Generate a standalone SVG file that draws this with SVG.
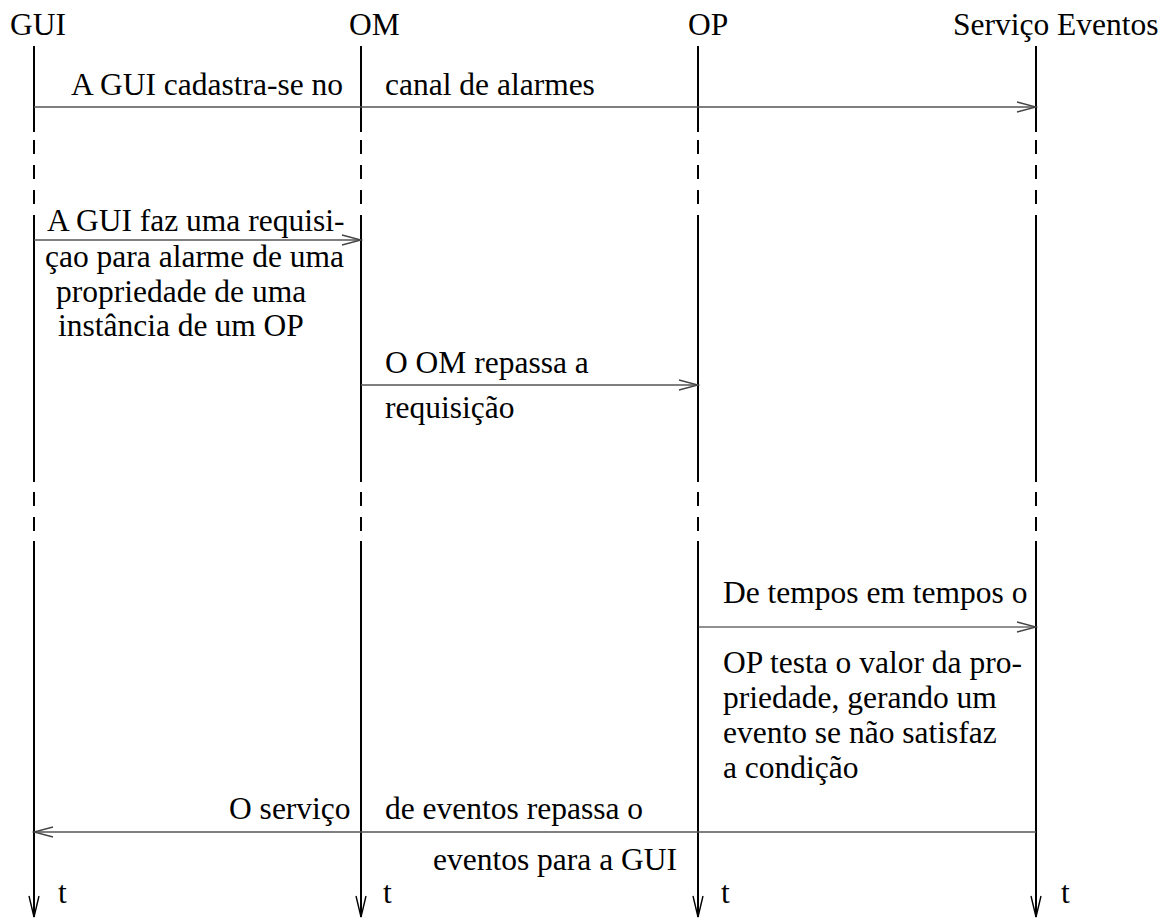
<svg xmlns="http://www.w3.org/2000/svg" width="1168" height="918" viewBox="0 0 1168 918">
<style>
text{font-family:"Liberation Serif","Times New Roman",serif;font-size:31.5px;fill:#000}
.life{stroke:#000;stroke-width:2;fill:none}
.dash{stroke:#000;stroke-width:2;fill:none;stroke-dasharray:14 11}
.msg{stroke:#555;stroke-width:1.6;fill:none;marker-end:url(#chev)}
.msg2{stroke:#222;stroke-width:1.2;fill:none;marker-end:url(#chev)}
</style>
<defs>
<marker id="chev" markerUnits="userSpaceOnUse" markerWidth="24" markerHeight="14" refX="0" refY="0" viewBox="-20 -7 24 14" orient="auto" overflow="visible">
<path d="M-19,-5 L0,0 L-19,5" fill="none" stroke="#444" stroke-width="1.3"/>
</marker>
<marker id="down" markerUnits="userSpaceOnUse" markerWidth="24" markerHeight="14" refX="0" refY="0" viewBox="-22 -7 24 14" orient="auto" overflow="visible">
<path d="M-21,-5 L0,0 L-21,5" fill="none" stroke="#000" stroke-width="1.4"/>
</marker>
</defs>
<rect width="1168" height="918" fill="#fff"/>

<g id="gui">
<text x="10" y="35">GUI</text>
<path class="life" d="M34,46 V132 M34,215 V482 M34,541"/>
<line class="dash" x1="34" y1="140" x2="34" y2="206"/>
<line class="dash" x1="34" y1="492" x2="34" y2="531"/>
<line class="life" x1="34" y1="541" x2="34" y2="917" marker-end="url(#down)"/>
<text x="58" y="903">t</text>
</g>

<g id="om">
<text x="349" y="35">OM</text>
<path class="life" d="M361,46 V132 M361,215 V482"/>
<line class="dash" x1="361" y1="140" x2="361" y2="206"/>
<line class="dash" x1="361" y1="492" x2="361" y2="531"/>
<line class="life" x1="361" y1="541" x2="361" y2="917" marker-end="url(#down)"/>
<text x="383" y="903">t</text>
</g>

<g id="op">
<text x="688" y="35">OP</text>
<path class="life" d="M698,46 V132 M698,215 V482"/>
<line class="dash" x1="698" y1="140" x2="698" y2="206"/>
<line class="dash" x1="698" y1="492" x2="698" y2="531"/>
<line class="life" x1="698" y1="541" x2="698" y2="917" marker-end="url(#down)"/>
<text x="721" y="903">t</text>
</g>

<g id="se">
<text x="953" y="35">Serviço Eventos</text>
<path class="life" d="M1036,46 V132 M1036,215 V482"/>
<line class="dash" x1="1036" y1="140" x2="1036" y2="206"/>
<line class="dash" x1="1036" y1="492" x2="1036" y2="531"/>
<line class="life" x1="1036" y1="541" x2="1036" y2="917" marker-end="url(#down)"/>
<text x="1061" y="903">t</text>
</g>

<g id="connectors">
<line class="msg" x1="34" y1="107" x2="1036" y2="107"/>
<text x="71" y="95">A GUI cadastra-se no</text>
<text x="385" y="95">canal de alarmes</text>

<line class="msg" x1="34" y1="240" x2="361" y2="240"/>
<text x="47" y="231">A GUI faz uma requisi-</text>
<text x="45" y="267">çao para alarme de uma</text>
<text x="56" y="302">propriedade de uma</text>
<text x="58" y="336">instância de um OP</text>

<line class="msg" x1="361" y1="385" x2="698" y2="385"/>
<text x="385" y="373">O OM repassa a</text>
<text x="385" y="418">requisição</text>

<line class="msg2" x1="698" y1="627" x2="1036" y2="627"/>
<text x="723" y="603">De tempos em tempos o</text>
<text x="723" y="673">OP testa o valor da pro-</text>
<text x="723" y="708">priedade, gerando um</text>
<text x="723" y="743">evento se não satisfaz</text>
<text x="723" y="778">a condição</text>

<line class="msg" x1="1036" y1="832" x2="34" y2="832"/>
<text x="229" y="819">O serviço</text>
<text x="385" y="819">de eventos repassa o</text>
<text x="433" y="870">eventos para a GUI</text>
</g>
</svg>
